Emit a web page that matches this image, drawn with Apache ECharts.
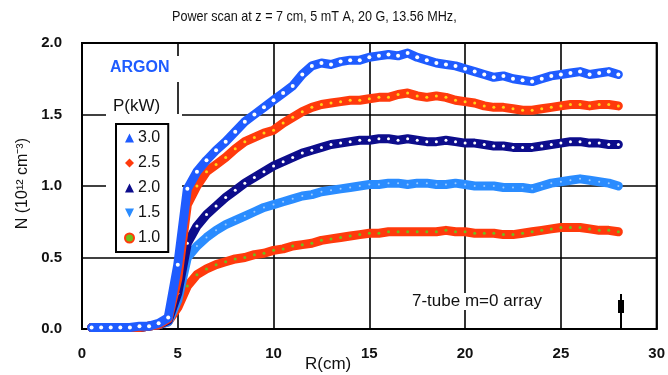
<!DOCTYPE html>
<html>
<head>
<meta charset="utf-8">
<script src="https://cdn.jsdelivr.net/npm/echarts@6/dist/echarts.min.js"></script>
<style>
html,body{margin:0;padding:0;background:#fff;}
#c{width:668px;height:375px;}
</style>
</head>
<body>
<div id="c"></div>
<script>
// Radius positions (cm)
const r = [0.5,1.0,1.5,2.0,2.5,3.0,3.5,4.0,4.5,5.0,5.5,6.0,6.5,7.0,7.5,8.0,8.5,9.0,9.5,10.0,
  10.5,11.0,11.5,12.0,12.5,13.0,13.5,14.0,14.5,15.0,15.5,16.0,16.5,17.0,17.5,18.0,18.5,19.0,19.5,20.0,
  20.5,21.0,21.5,22.0,22.5,23.0,23.5,24.0,24.5,25.0,25.5,26.0,26.5,27.0,27.5,28.0];

// Density N (10^12 cm^-3) for each RF power (kW)
const p30 = [0.01,0.01,0.01,0.01,0.01,0.02,0.02,0.04,0.08,0.45,0.98,1.10,1.18,1.25,1.31,1.38,1.45,1.50,1.55,1.60,
  1.65,1.70,1.78,1.84,1.86,1.85,1.87,1.88,1.88,1.90,1.91,1.92,1.91,1.93,1.90,1.88,1.86,1.85,1.84,1.82,
  1.80,1.78,1.76,1.77,1.75,1.74,1.73,1.75,1.77,1.78,1.79,1.80,1.78,1.79,1.80,1.78];
const p25 = [0.01,0.01,0.01,0.01,0.01,0.01,0.02,0.03,0.07,0.35,0.87,1.00,1.10,1.15,1.20,1.26,1.31,1.34,1.37,1.39,
  1.44,1.48,1.52,1.55,1.57,1.58,1.59,1.60,1.60,1.61,1.62,1.62,1.64,1.65,1.63,1.62,1.63,1.62,1.60,1.59,
  1.58,1.56,1.55,1.55,1.54,1.53,1.53,1.54,1.55,1.56,1.57,1.57,1.56,1.57,1.57,1.56];
const p20 = [0.01,0.01,0.01,0.01,0.01,0.01,0.02,0.03,0.06,0.25,0.60,0.72,0.80,0.86,0.92,0.97,1.02,1.06,1.10,1.14,
  1.17,1.20,1.23,1.25,1.27,1.29,1.30,1.31,1.32,1.32,1.33,1.33,1.32,1.33,1.32,1.31,1.31,1.32,1.31,1.30,
  1.30,1.29,1.28,1.28,1.27,1.27,1.27,1.28,1.29,1.30,1.31,1.31,1.30,1.30,1.29,1.29];
const p15 = [0.01,0.01,0.01,0.01,0.01,0.01,0.02,0.03,0.05,0.20,0.50,0.58,0.64,0.69,0.73,0.76,0.79,0.82,0.85,0.87,
  0.89,0.91,0.93,0.94,0.96,0.97,0.98,0.99,1.00,1.01,1.01,1.02,1.02,1.01,1.02,1.02,1.01,1.01,1.02,1.01,
  1.00,1.00,1.00,0.99,0.99,0.99,0.98,1.00,1.02,1.03,1.04,1.05,1.04,1.03,1.02,1.00];
const p10 = [0.01,0.01,0.01,0.01,0.01,0.01,0.02,0.03,0.05,0.15,0.30,0.38,0.42,0.45,0.47,0.49,0.50,0.52,0.53,0.55,
  0.56,0.58,0.59,0.60,0.62,0.63,0.64,0.65,0.66,0.67,0.67,0.68,0.68,0.68,0.68,0.68,0.68,0.69,0.68,0.68,
  0.67,0.67,0.67,0.66,0.66,0.67,0.68,0.69,0.70,0.71,0.71,0.71,0.70,0.69,0.69,0.68];

const powerNames = ['3.0','2.5','2.0','1.5','1.0'];
const yTicks = ['0.0','0.5','1.0','1.5','2.0'];
const xTicks = ['0','5','10','15','20','25','30'];

const seriesVals = [p30, p25, p20, p15, p10];
const bandColors = ['#1f5cff', '#ff3a0c', '#0d0d8c', '#2a8cff', '#ff3a0c'];
const dotColors  = ['#ffffff', '#ffd21a', '#ffffff', '#9ccbff', '#6fbf1a'];
const dotSizes   = [4, 3, 3, 2, 3];
const legendIcons = ['triangle','diamond','triangle','path://M0,0 L10,0 L5,10 Z','circle'];

const font = '"Liberation Sans",Arial,sans-serif';

const chart = echarts.init(document.getElementById('c'));

const series = seriesVals.map((vals, i) => ({
  name: powerNames[i],
  type: 'line',
  z: 3 + (4 - i),
  data: r.map((x, k) => [x, vals[k]]),
  lineStyle: { color: bandColors[i], width: 9, cap: 'round', join: 'round' },
  symbol: 'circle',
  symbolSize: dotSizes[i],
  itemStyle: { color: dotColors[i] },
  emphasis: { disabled: true },
  animation: false
}));

chart.setOption({
  animation: false,
  grid: { left: 82, right: 7, top: 43, bottom: 46, show: true, borderColor: '#000', borderWidth: 2, backgroundColor: 'transparent' },
  xAxis: {
    type: 'value', min: 0, max: 30, interval: 5,
    axisLine: { lineStyle: { color: '#000', width: 2 } },
    axisTick: { show: false },
    splitLine: { show: true, lineStyle: { color: '#000', width: 1.6 } },
    axisLabel: { margin: 17, color: '#111', fontFamily: font, fontSize: 15, fontWeight: 'bold',
      formatter: (v) => xTicks[Math.round(v / 5)] }
  },
  yAxis: {
    type: 'value', min: 0, max: 2, interval: 0.5,
    axisLine: { lineStyle: { color: '#000', width: 2 } },
    axisTick: { show: false },
    splitLine: { show: true, lineStyle: { color: '#000', width: 1.6 } },
    axisLabel: { margin: 20, color: '#111', fontFamily: font, fontSize: 15, fontWeight: 'bold',
      formatter: (v) => yTicks[Math.round(v / 0.5)] }
  },
  legend: {
    orient: 'vertical', left: 116, top: 124,
    backgroundColor: '#fff', borderColor: '#000', borderWidth: 2, borderRadius: 0,
    padding: [6, 8, 6, 8],
    itemWidth: 9, itemHeight: 9, itemGap: 9,
    selectedMode: false,
    textStyle: { fontFamily: font, fontSize: 16, color: '#111', padding: [0, 0, 0, -1], lineHeight: 16 },
    data: powerNames.map((n, i) => ({ name: n, icon: legendIcons[i],
      itemStyle: { color: i === 4 ? '#6fbf1a' : bandColors[i], borderColor: bandColors[i], borderWidth: i === 4 ? 2 : 0 } }))
  },
  graphic: [
    { type: 'text', z: 5, left: 172, top: 9, scaleX: 0.84,
      style: { text: 'Power scan at z = 7 cm, 5 mT A, 20 G, 13.56 MHz,', fill: '#111', font: '15px ' + font } },
    { type: 'rect', z: 1, shape: { x: 106, y: 114, width: 76, height: 143 }, style: { fill: '#fff' } },
    { type: 'rect', z: 1, shape: { x: 106, y: 56, width: 76, height: 26 }, style: { fill: '#fff' } },
    { type: 'text', z: 5, left: 110, top: 60,
      style: { text: 'ARGON', fill: '#1f5cff', font: 'bold 16px ' + font, letterSpacing: 2 } },
    { type: 'rect', z: 1, shape: { x: 111, y: 98, width: 60, height: 20 }, style: { fill: '#fff' } },
    { type: 'text', z: 5, left: 113, top: 98,
      style: { text: 'P(kW)', fill: '#111', font: '17px ' + font, letterSpacing: 1 } },
    { type: 'text', z: 5, left: 406, top: 293,
      style: { text: '7-tube m=0 array', fill: '#111', font: '17px ' + font,
        backgroundColor: '#fff', padding: [0, 6, 0, 6] } },
    { type: 'text', z: 5, left: 305, top: 356,
      style: { text: 'R(cm)', fill: '#111', font: '17px ' + font } },
    { type: 'text', z: 5, left: 15, top: 138, rotation: Math.PI / 2,
      style: { text: 'N (10\u00b9\u00b2 cm\u207b\u00b3)', fill: '#111', font: '16px ' + font } },
    { type: 'line', z: 5, shape: { x1: 621, y1: 329, x2: 621, y2: 294 }, style: { stroke: '#000', lineWidth: 2 } },
    { type: 'rect', z: 5, shape: { x: 618, y: 300, width: 6, height: 13 }, style: { fill: '#000' } }
  ],
  series: series
});
</script>
</body>
</html>
